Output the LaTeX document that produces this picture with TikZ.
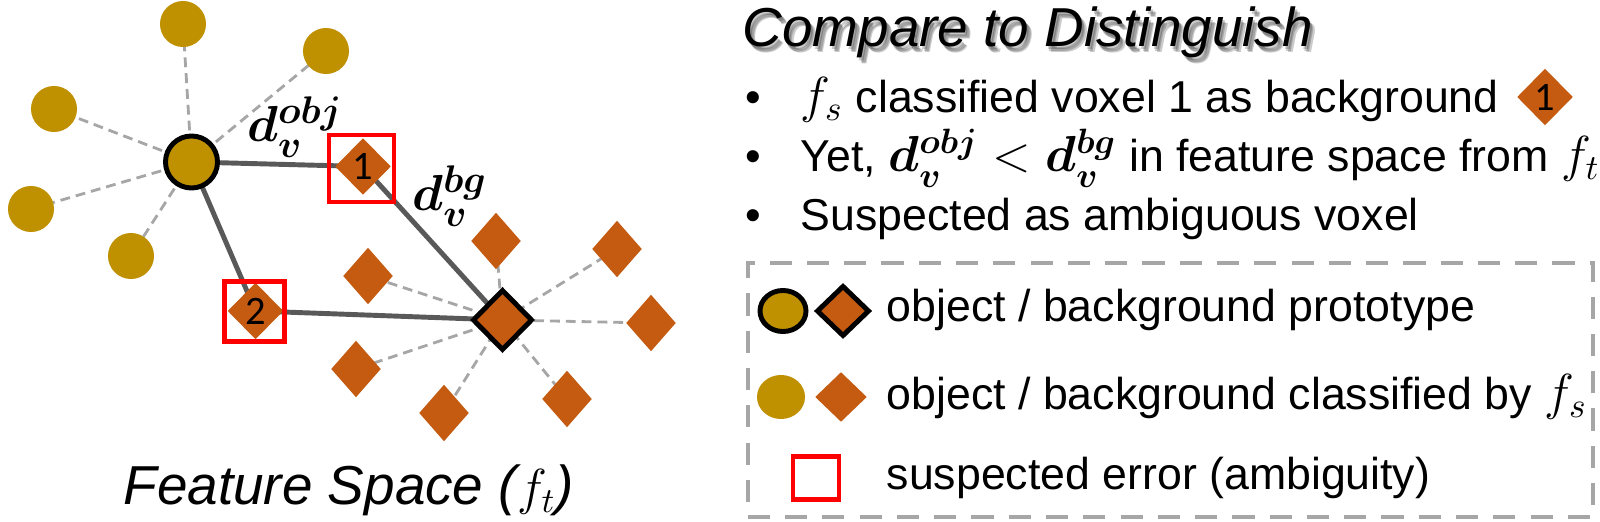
\documentclass[tikz,border=0pt]{standalone}
\usepackage{amsmath}
\usepackage[no-math]{fontspec}
\setmainfont{Liberation Sans}
\newfontfamily\numfont{Carlito}
\usetikzlibrary{shapes.geometric,backgrounds}
\definecolor{gold}{HTML}{BF9000}
\definecolor{rust}{HTML}{C55A11}
\definecolor{dashgray}{HTML}{A6A6A6}
\definecolor{linegray}{HTML}{595959}
\definecolor{boxred}{HTML}{FF0000}
\newcommand{\bigmath}[1]{{\fontsize{14.5}{15}\selectfont$#1$}}
\newcommand{\midmath}[1]{{\fontsize{13.6}{15}\selectfont$#1$}}
\begin{document}
\begin{tikzpicture}[x=0.01cm,y=-0.01cm,
  objpt/.style={circle, fill=gold, inner sep=0pt, minimum size=0.46cm},
  objproto/.style={circle, fill=gold, draw=black, line width=1.4pt, inner sep=0pt, minimum size=0.52cm},
  bgpt/.style={diamond, fill=rust, inner sep=0pt, minimum width=0.5cm, minimum height=0.57cm},
  numpt/.style={bgpt, minimum width=0.56cm, label={[font=\numfont\fontsize{11.5}{12}\selectfont, inner sep=0pt]center:#1}},
  bgproto/.style={diamond, fill=rust, draw=black, line width=1.4pt, inner sep=0pt, minimum width=0.6cm, minimum height=0.61cm},
  errbox/.style={rectangle, draw=boxred, line width=1.2pt, inner sep=0pt},
  near/.style={draw=linegray, line width=1.4pt},
  far/.style={draw=dashgray, line width=0.8pt, dash pattern=on 2.8pt off 1.7pt},
  txt/.style={font=\fontsize{12.7}{15}\selectfont, inner sep=0pt, anchor=base west},
  dlab/.style={font=\fontsize{15}{15}\selectfont, inner sep=0pt},
  ttl/.style={font=\itshape\fontsize{15.6}{18}\selectfont, inner sep=0pt, anchor=base west},
]
\useasboundingbox (0,0) rectangle (1600,522);

% ---- feature space ----
\node[objproto] (O) at (191.5,162) {};
\node[objpt] (s1) at (183,24) {};
\node[objpt] (s2) at (326,51) {};
\node[objpt] (s3) at (54,109) {};
\node[objpt] (s4) at (31,209) {};
\node[objpt] (s5) at (131,256) {};

\node[bgproto] (B) at (502.5,320) {};
\node[bgpt] (b1) at (368,276) {};
\node[bgpt] (b2) at (496,241) {};
\node[bgpt] (b3) at (617,249) {};
\node[bgpt] (b4) at (651,323) {};
\node[bgpt] (b5) at (356,369) {};
\node[bgpt] (b6) at (444,413) {};
\node[bgpt] (b7) at (567,399) {};

\node[numpt=1] (d1) at (363,166.5) {};
\node[numpt=2] (d2) at (255.5,311) {};
\node[errbox, minimum width=0.65cm, minimum height=0.67cm] (e1) at (361.5,168.5) {};
\node[errbox, minimum size=0.6cm] (e2) at (254.5,311.5) {};

\begin{pgfonlayer}{background}
  \foreach \s in {s1,s2,s3,s4,s5} \draw[far] (O.center) -- (\s.center);
  \foreach \b in {b1,b2,b3,b4,b5,b6,b7} \draw[far] (B.center) -- (\b.center);
  \draw[near] (O.center) -- (d1.center);
  \draw[near] (O.center) -- (d2.center);
  \draw[near] (d1.center) -- (B.center);
  \draw[near] (d2.center) -- (B.center);
\end{pgfonlayer}

\node[dlab] (lobj) at (295,127) {$\boldsymbol{d_v^{obj}}$};
\node[dlab] (lbg) at (450,196) {$\boldsymbol{d_v^{bg}}$};

\node[ttl] (fspace) at (123,505) {Feature Space (\bigmath{f_t})};

% ---- title with shadow ----
\node[ttl, text=black, opacity=0.2] (tsh1) at (744,50) {Compare to Distinguish};
\node[ttl, text=black, opacity=0.2] (tsh2) at (745.5,51.5) {Compare to Distinguish};
\node[ttl, text=black, opacity=0.2] (tsh3) at (747,53) {Compare to Distinguish};
\node[ttl] (title) at (742,47) {Compare to Distinguish};

% ---- bullets ----
\node[txt] (bu1) at (745,113) {\textbullet};
\node[txt] (bu2) at (745,172) {\textbullet};
\node[txt] (bu3) at (745,231) {\textbullet};
\node[txt] (l1) at (800,113) {\midmath{f_s} classified voxel 1 as background};
\node[numpt=1] (k1) at (1545,97) {};
\node[txt] (l2) at (800,172) {Yet, \midmath{\boldsymbol{d_v^{obj}} < \boldsymbol{d_v^{bg}}} in feature space from \midmath{f_t}};
\node[txt] (l3) at (800,231) {Suspected as ambiguous voxel};

% ---- legend ----
\node[draw=dashgray, line width=1.15pt, dash pattern=on 6.3pt off 4.3pt, minimum width=8.45cm, minimum height=2.54cm, inner sep=0pt] (leg) at (1170.5,390) {};
\node[ellipse, fill=gold, draw=black, line width=1.4pt, inner sep=0pt, minimum width=0.46cm, minimum height=0.41cm] (lo1) at (783,311) {};
\node[bgproto, minimum width=0.53cm, minimum height=0.51cm] (lb1) at (843,311) {};
\node[ellipse, fill=gold, inner sep=0pt, minimum width=0.48cm, minimum height=0.44cm] (lo2) at (781,397) {};
\node[bgpt, minimum width=0.52cm, minimum height=0.5cm] (lb2) at (841,397) {};
\node[errbox, minimum width=0.46cm, minimum height=0.43cm] (le3) at (816,478) {};
\node[txt] (t1) at (886,322) {object / background prototype};
\node[txt] (t2) at (886,410) {object / background classified by \midmath{f_s}};
\node[txt] (t3) at (886,490) {suspected error (ambiguity)};
\end{tikzpicture}
\end{document}
